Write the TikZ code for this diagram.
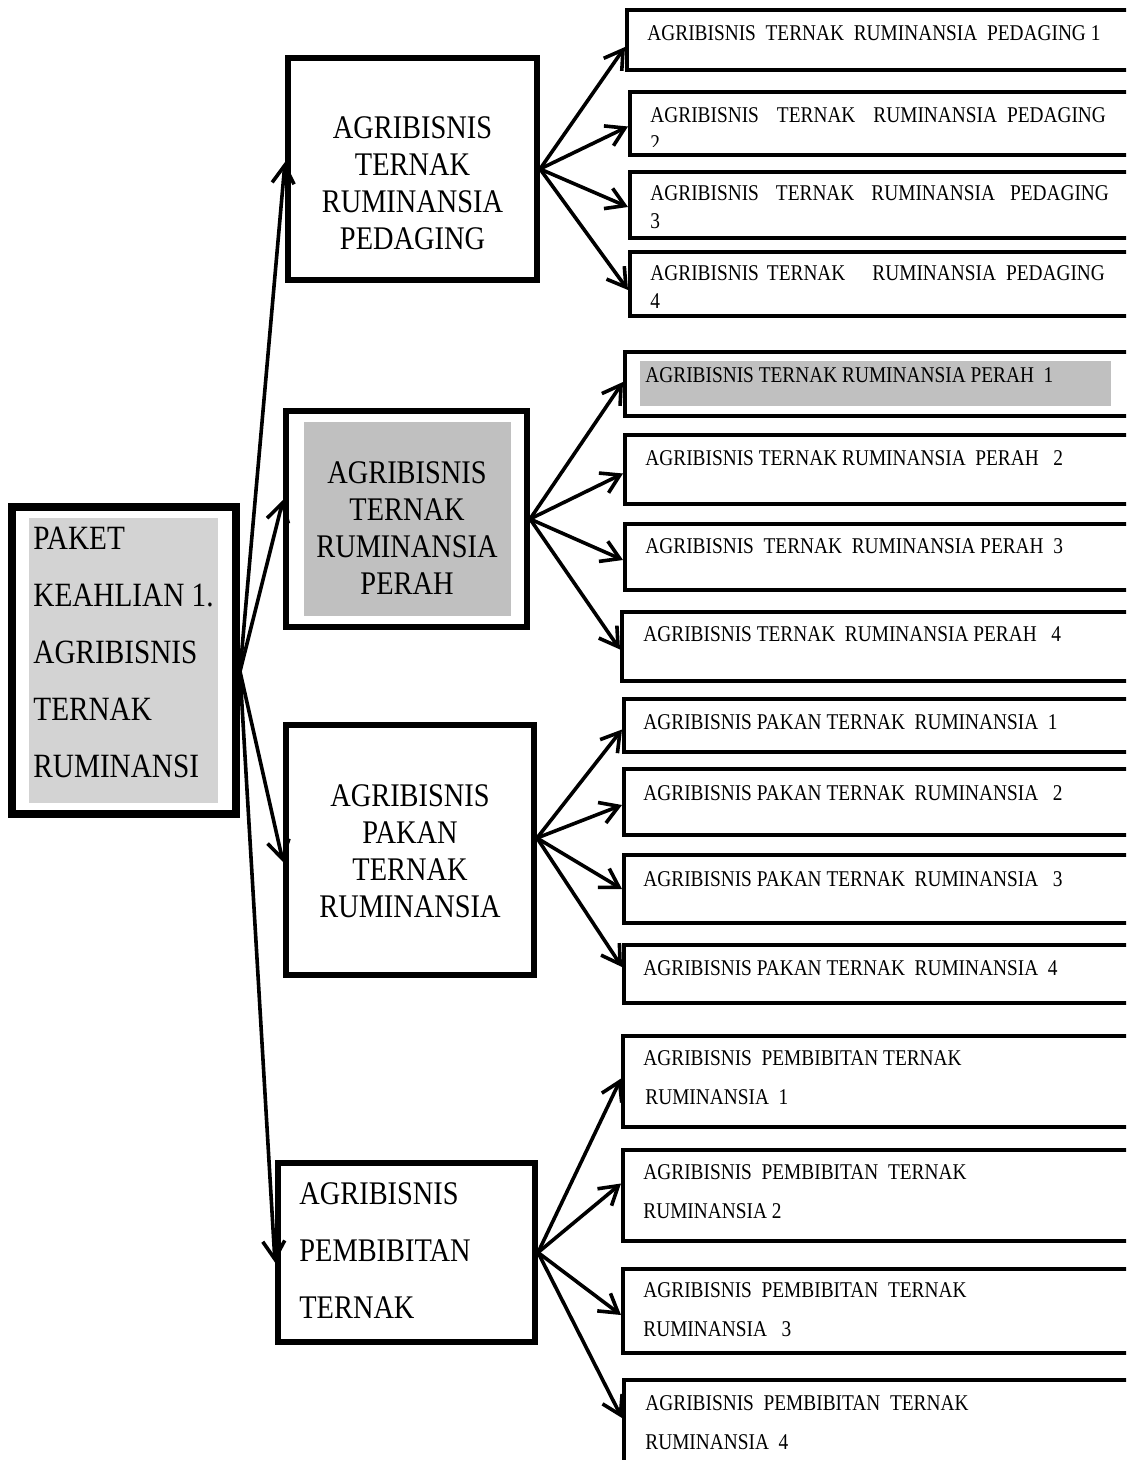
\documentclass[tikz,border=0pt]{standalone}
\usepackage{fontspec}
\setmainfont{Liberation Serif}[FakeStretch=0.86]
\usetikzlibrary{arrows.meta,calc}
\definecolor{rootgray}{RGB}{211,211,211}
\definecolor{perahgray}{RGB}{192,192,192}
\newcommand{\pxu}{0.5pt}

\begin{document}
\begin{tikzpicture}[x=0.5pt, y=-0.5pt,
    rootbox/.style={draw, line width=4pt, inner sep=0pt, anchor=north west},
    bigbox/.style={draw, line width=3pt, inner sep=0pt, anchor=north west},
    leafbox/.style={draw, line width=2pt, inner sep=0pt, anchor=north west, minimum width=520*\pxu},
    roottext/.style={inner sep=0pt, anchor=north west, align=left, font=\fontsize{17}{28.5}\selectfont},
    midtext/.style={inner sep=0pt, anchor=north, align=center, font=\fontsize{16.5}{18.5}\selectfont},
    leaftext/.style={inner sep=0pt, anchor=north west, align=left, font=\fontsize{11.25}{14}\selectfont},
    branch/.style={line width=1.8pt, -{Straight Barb[length=9pt,width=11pt]}}]
    \useasboundingbox (0,0) rectangle (1126,1460);
    \clip (0,0) rectangle (1126,1460);

    % Paket keahlian
    \fill[rootgray] (29,518) rectangle (218,803);
    \node[rootbox, minimum width=224*\pxu, minimum height=307*\pxu] (root) at (8,503) {};
    \node[roottext] (roottxt) at (33,526.75) {PAKET\\KEAHLIAN 1.\\AGRIBISNIS\\TERNAK\\RUMINANSI};

    % Pedaging
    \node[bigbox, minimum width=249*\pxu, minimum height=222*\pxu] (pedaging) at (285,55) {};
    \node[midtext] (pedagingtxt) at (412.5,116) {AGRIBISNIS\\TERNAK\\RUMINANSIA\\PEDAGING};

    % Perah
    \fill[perahgray] (304,422) rectangle (511,616);
    \node[bigbox, minimum width=241*\pxu, minimum height=216*\pxu] (perah) at (283,408) {};
    \node[midtext] (perahtxt) at (407,461) {AGRIBISNIS\\TERNAK\\RUMINANSIA\\PERAH};

    % Pakan
    \node[bigbox, minimum width=248*\pxu, minimum height=250*\pxu] (pakan) at (283,722) {};
    \node[midtext] (pakantxt) at (410,784) {AGRIBISNIS\\PAKAN\\TERNAK\\RUMINANSIA};

    % Pembibitan
    \node[bigbox, minimum width=257*\pxu, minimum height=179*\pxu] (bibit) at (275,1160) {};
    \node[midtext, anchor=north west, align=left, font=\fontsize{16.5}{28.5}\selectfont] (bibittxt) at (299,1182) {AGRIBISNIS\\PEMBIBITAN\\TERNAK};

    % Leaves: pedaging
    \node[leafbox, minimum height=60*\pxu] (ped1) at (625,8) {};
    \node[leaftext] (ped1txt) at (647,25.5) {AGRIBISNIS~ TERNAK~ RUMINANSIA~ PEDAGING 1};
    \node[leafbox, minimum height=63*\pxu] (ped2) at (628,90) {};
    \begin{scope}
        \clip (628,90) rectangle (1126,147);
        \node[leaftext] (ped2txt) at (650,107.5) {AGRIBISNIS\hspace{9pt}TERNAK\hspace{9pt}RUMINANSIA\hspace{5pt}PEDAGING\\2};
    \end{scope}
    \node[leafbox, minimum height=66*\pxu] (ped3) at (628,170) {};
    \node[leaftext] (ped3txt) at (650,185.5) {AGRIBISNIS\hspace{8.5pt}TERNAK\hspace{8.5pt}RUMINANSIA\hspace{7.5pt}PEDAGING\\3};
    \node[leafbox, minimum height=64*\pxu] (ped4) at (628,250) {};
    \node[leaftext] (ped4txt) at (650,265.5) {AGRIBISNIS\hspace{4pt}TERNAK\hspace{13.5pt}RUMINANSIA\hspace{5pt}PEDAGING\\4};

    % Leaves: perah
    \fill[perahgray] (640,361) rectangle (1111,406);
    \node[leafbox, minimum height=64*\pxu] (per1) at (623,350) {};
    \node[leaftext] (per1txt) at (645,367.5) {AGRIBISNIS TERNAK RUMINANSIA PERAH~ 1};
    \node[leafbox, minimum height=69*\pxu] (per2) at (623,433) {};
    \node[leaftext] (per2txt) at (645,450.5) {AGRIBISNIS TERNAK RUMINANSIA~ PERAH~~ 2};
    \node[leafbox, minimum height=66*\pxu] (per3) at (623,522) {};
    \node[leaftext] (per3txt) at (645,538.5) {AGRIBISNIS~ TERNAK~ RUMINANSIA PERAH~ 3};
    \node[leafbox, minimum height=69*\pxu] (per4) at (620,610) {};
    \node[leaftext] (per4txt) at (643,626.5) {AGRIBISNIS TERNAK~ RUMINANSIA PERAH~~ 4};

    % Leaves: pakan
    \node[leafbox, minimum height=53*\pxu] (pak1) at (622,697) {};
    \node[leaftext] (pak1txt) at (643,714.5) {AGRIBISNIS PAKAN TERNAK~ RUMINANSIA~ 1};
    \node[leafbox, minimum height=66*\pxu] (pak2) at (622,767) {};
    \node[leaftext] (pak2txt) at (643,785.5) {AGRIBISNIS PAKAN TERNAK~ RUMINANSIA~~ 2};
    \node[leafbox, minimum height=68*\pxu] (pak3) at (622,853) {};
    \node[leaftext] (pak3txt) at (643,871.5) {AGRIBISNIS PAKAN TERNAK~ RUMINANSIA~~ 3};
    \node[leafbox, minimum height=58*\pxu] (pak4) at (622,943) {};
    \node[leaftext] (pak4txt) at (643,960.5) {AGRIBISNIS PAKAN TERNAK~ RUMINANSIA~ 4};

    % Leaves: pembibitan
    \node[leafbox, minimum height=91*\pxu] (bib1) at (621,1034) {};
    \node[leaftext, font=\fontsize{11.25}{19.5}\selectfont] (bib1txt) at (643,1050.5) {AGRIBISNIS~ PEMBIBITAN TERNAK\\\hspace*{1pt}RUMINANSIA~ 1};
    \node[leafbox, minimum height=91*\pxu] (bib2) at (621,1148) {};
    \node[leaftext, font=\fontsize{11.25}{19.5}\selectfont] (bib2txt) at (643,1164.5) {AGRIBISNIS~ PEMBIBITAN~ TERNAK\\RUMINANSIA 2};
    \node[leafbox, minimum height=84*\pxu] (bib3) at (621,1267) {};
    \node[leaftext, font=\fontsize{11.25}{19.5}\selectfont] (bib3txt) at (643,1282.5) {AGRIBISNIS~ PEMBIBITAN~ TERNAK\\RUMINANSIA~~ 3};
    \node[leafbox, minimum height=120*\pxu] (bib4) at (622,1378) {};
    \node[leaftext, font=\fontsize{11.25}{19.5}\selectfont] (bib4txt) at (645,1395.5) {AGRIBISNIS~ PEMBIBITAN~ TERNAK\\RUMINANSIA~ 4};

    % Connectors
    \coordinate (hub) at ($(root.east)+(0,11)$);
    \draw[branch] (hub) -- ($(pedaging.west)+(0,-7)$);
    \draw[branch] (hub) -- ($(perah.west)+(0,-19)$);
    \draw[branch] (hub) -- ($(pakan.west)+(0,12)$);
    \draw[branch] (hub) -- ($(bibit.west)+(0,10)$);
    \foreach \t/\s in {ped1/7, ped2/3, ped3/2, ped4/6}
        \draw[branch] (pedaging.east) -- ($(\t.west)+(0,\s)$);
    \foreach \t/\s in {per1/-2, per2/4, per3/3, per4/3}
        \draw[branch] (perah.east) -- ($(\t.west)+(0,\s)$);
    \foreach \t/\s in {pak1/4, pak2/3, pak3/0, pak4/-7}
        \draw[branch] ($(pakan.east)+(0,-12)$) -- ($(\t.west)+(0,\s)$);
    \foreach \t/\s in {bib1/-3, bib2/-12, bib3/4, bib4/-22}
        \draw[branch] (bibit.east) -- ($(\t.west)+(0,\s)$);
\end{tikzpicture}
\end{document}
